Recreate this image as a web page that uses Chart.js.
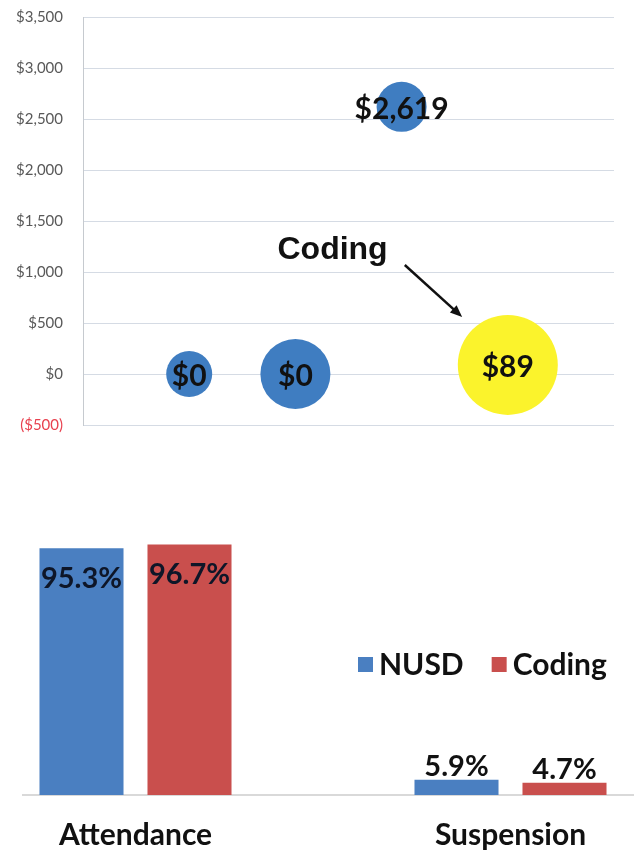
<!DOCTYPE html>
<html>
<head>
<meta charset="utf-8">
<script src="https://cdn.jsdelivr.net/npm/chart.js@4.4.0/dist/chart.umd.min.js"></script>
<style>
  html, body { margin: 0; padding: 0; background: #fff; overflow: hidden; }
  #top { position: absolute; left: 0; top: 0; }
  #bottomWrap { position: absolute; left: 22px; top: 500px; width: 612px; height: 358px; overflow: hidden; }
  #bottom { position: absolute; left: -74px; top: 0; }
</style>
</head>
<body>
<canvas id="top" width="634" height="450"></canvas>
<div id="bottomWrap"><canvas id="bottom" width="750" height="358"></canvas></div>
<script>
// top chart: cost bubbles
const bubbleX = [2, 4, 6, 8];
const bubbleY = [0, 0, 2619, 89];
const bubbleR = [23, 35, 25, 50];
const bubbleColors = ["#3f7dc1", "#3f7dc1", "#3f7dc1", "#fbf32c"];

// callout, in data units
const calloutText = "Coding";
const calloutTextAt = [4.7, 1215];
const calloutFrom = [6.06, 1069];
const calloutTo = [7.14, 559];

// bottom chart
const categories = ["Attendance", "Suspension"];
const seriesNames = ["NUSD", "Coding"];
const nusdValues = [95.3, 5.9];
const codingValues = [96.7, 4.7];
const seriesColors = ["#4a7fc1", "#c94f4d"];

const money = (v) =>
  v < 0 ? "($" + Math.abs(v).toLocaleString("en-US") + ")" : "$" + v.toLocaleString("en-US");

const bubbleLabels = {
  id: "bubbleLabels",
  afterDatasetsDraw(chart) {
    const ctx = chart.ctx;
    const xs = chart.scales.x;
    const ys = chart.scales.y;
    ctx.save();
    ctx.fillStyle = "#111";
    ctx.textAlign = "center";
    ctx.textBaseline = "middle";
    ctx.font = "bold 30px Lato";
    chart.getDatasetMeta(0).data.forEach((pt, i) => {
      ctx.fillText(money(bubbleY[i]), pt.x, pt.y + 2);
    });

    ctx.font = "bold 32px 'Liberation Sans'";
    ctx.fillText(calloutText, xs.getPixelForValue(calloutTextAt[0]), ys.getPixelForValue(calloutTextAt[1]));

    // arrow
    const x1 = xs.getPixelForValue(calloutFrom[0]), y1 = ys.getPixelForValue(calloutFrom[1]);
    const x2 = xs.getPixelForValue(calloutTo[0]), y2 = ys.getPixelForValue(calloutTo[1]);
    const a = Math.atan2(y2 - y1, x2 - x1);
    ctx.strokeStyle = "#111";
    ctx.lineWidth = 2.5;
    ctx.beginPath();
    ctx.moveTo(x1, y1);
    ctx.lineTo(x2 - 8 * Math.cos(a), y2 - 8 * Math.sin(a));
    ctx.stroke();
    ctx.beginPath();
    ctx.moveTo(x2, y2);
    ctx.lineTo(x2 - 12 * Math.cos(a) + 5 * Math.sin(a), y2 - 12 * Math.sin(a) - 5 * Math.cos(a));
    ctx.lineTo(x2 - 12 * Math.cos(a) - 5 * Math.sin(a), y2 - 12 * Math.sin(a) + 5 * Math.cos(a));
    ctx.closePath();
    ctx.fillStyle = "#111";
    ctx.fill();
    ctx.restore();
  },
};

new Chart(document.getElementById("top"), {
  type: "bubble",
  data: {
    datasets: [
      {
        data: bubbleX.map((x, i) => ({ x: x, y: bubbleY[i], r: bubbleR[i] })),
        backgroundColor: bubbleColors,
        borderWidth: 0,
      },
    ],
  },
  options: {
    responsive: false,
    animation: false,
    layout: { autoPadding: false, padding: { top: 17, right: 20, bottom: 25, left: 0 } },
    plugins: { legend: { display: false }, tooltip: { enabled: false } },
    scales: {
      x: { display: false, min: 0, max: 10 },
      y: {
        min: -500,
        max: 3500,
        ticks: {
          stepSize: 500,
          padding: 2,
          callback: (v) => money(v),
          color: (c) => (c.tick && c.tick.value < 0 ? "#e8414f" : "#595959"),
          font: { family: "Lato", size: 15 },
        },
        grid: { color: "#d5dbe4", drawTicks: true, tickLength: 18, tickColor: "rgba(0,0,0,0)" },
        border: { color: "#c6cacf" },
        afterFit: (s) => { s.width = 83; },
      },
    },
  },
  plugins: [bubbleLabels],
});

const barLabels = {
  id: "barLabels",
  afterDatasetsDraw(chart) {
    const ctx = chart.ctx;
    ctx.save();
    ctx.font = "bold 29px Lato";
    ctx.textAlign = "center";
    chart.data.datasets.forEach((ds, di) => {
      chart.getDatasetMeta(di).data.forEach((bar, i) => {
        const v = ds.data[i];
        if (v > 50) {
          ctx.fillStyle = "#0e1628";
          ctx.textBaseline = "middle";
          ctx.fillText(v.toFixed(1) + "%", bar.x, bar.y + 30);
        } else {
          ctx.fillStyle = "#111";
          ctx.textBaseline = "alphabetic";
          ctx.fillText(v.toFixed(1) + "%", bar.x, bar.y - 4);
        }
      });
    });

    // legend inside the plot
    let x = 410;
    const y = 165;
    ctx.textAlign = "left";
    ctx.textBaseline = "middle";
    ctx.font = "bold 30px Lato";
    chart.data.datasets.forEach((ds) => {
      ctx.fillStyle = ds.backgroundColor;
      ctx.fillRect(x, y - 8, 15, 15);
      x += 21;
      ctx.fillStyle = "#111";
      ctx.fillText(ds.label, x, y);
      x += ctx.measureText(ds.label).width + 28;
    });
    ctx.restore();
  },
};

new Chart(document.getElementById("bottom"), {
  type: "bar",
  data: {
    labels: categories,
    datasets: [
      { label: seriesNames[0], data: nusdValues, backgroundColor: seriesColors[0] },
      { label: seriesNames[1], data: codingValues, backgroundColor: seriesColors[1] },
    ],
  },
  options: {
    responsive: false,
    animation: false,
    datasets: { bar: { categoryPercentage: 0.576, barPercentage: 0.778 } },
    layout: { padding: { top: 36, right: 0, bottom: 0, left: 0 } },
    plugins: { legend: { display: false }, tooltip: { enabled: false } },
    scales: {
      x: {
        grid: { display: false, drawTicks: false },
        border: { color: "#d9d9d9", width: 2 },
        ticks: { padding: 22, color: "#111", font: { family: "Lato", size: 30, weight: "bold" } },
        afterFit: (s) => { s.height = 63; },
      },
      y: { display: false, min: 0, max: 100 },
    },
  },
  plugins: [barLabels],
});
</script>
</body>
</html>
